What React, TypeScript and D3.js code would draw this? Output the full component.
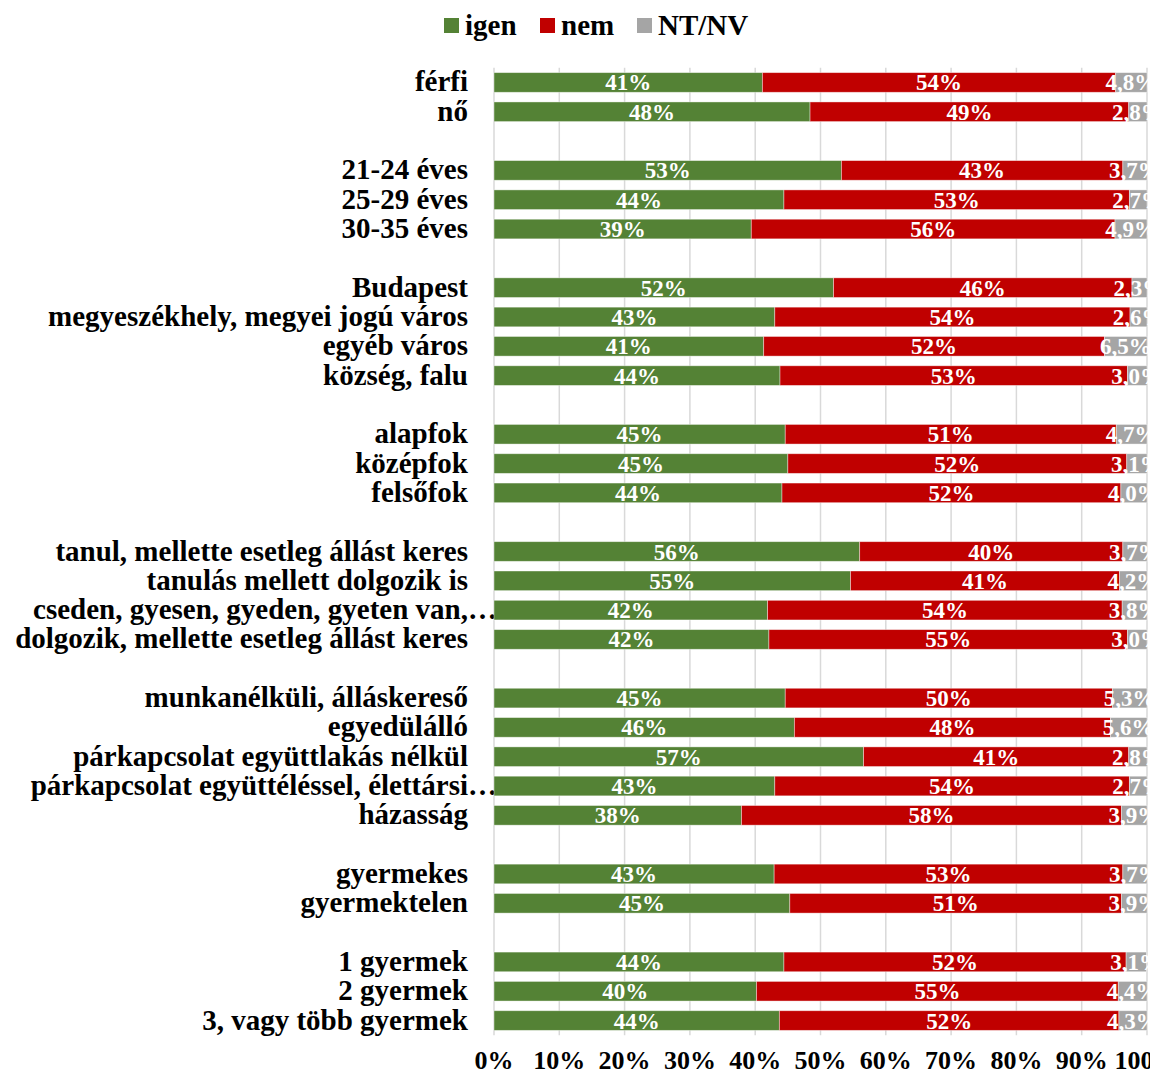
import { useEffect, useRef } from "react"
import * as d3 from "d3"

// Row categories; "" marks an empty spacer row between groups
const categories = [
  "férfi", "nő", "",
  "21-24 éves", "25-29 éves", "30-35 éves", "",
  "Budapest", "megyeszékhely, megyei jogú város", "egyéb város", "község, falu", "",
  "alapfok", "középfok", "felsőfok", "",
  "tanul, mellette esetleg állást keres", "tanulás mellett dolgozik is",
  "cseden, gyesen, gyeden, gyeten van,…", "dolgozik, mellette esetleg állást keres", "",
  "munkanélküli, álláskereső", "egyedülálló", "párkapcsolat együttlakás nélkül",
  "párkapcsolat együttéléssel, élettársi…", "házasság", "",
  "gyermekes", "gyermektelen", "",
  "1 gyermek", "2 gyermek", "3, vagy több gyermek",
]

const igen = [
  41.1, 48.4, 0,
  53.2, 44.4, 39.4, 0,
  52.0, 43.0, 41.3, 43.8, 0,
  44.6, 45.0, 44.1, 0,
  56.0, 54.6, 41.9, 42.1, 0,
  44.6, 46.0, 56.6, 43.0, 37.9, 0,
  42.9, 45.3, 0,
  44.4, 40.2, 43.7,
]
const nem = [
  54.1, 48.8, 0,
  43.1, 52.9, 55.7, 0,
  45.7, 54.4, 52.2, 53.2, 0,
  50.7, 51.9, 51.9, 0,
  40.3, 41.2, 54.3, 54.9, 0,
  50.1, 48.4, 40.6, 54.3, 58.2, 0,
  53.4, 50.8, 0,
  52.4, 55.4, 52.0,
]
const ntnv = [
  4.8, 2.8, 0,
  3.7, 2.7, 4.9, 0,
  2.3, 2.6, 6.5, 3.0, 0,
  4.7, 3.1, 4.0, 0,
  3.7, 4.2, 3.8, 3.0, 0,
  5.3, 5.6, 2.8, 2.7, 3.9, 0,
  3.7, 3.9, 0,
  3.1, 4.4, 4.3,
]

const seriesNames = ["igen", "nem", "NT/NV"]
const colors = ["#548235", "#C00000", "#A5A5A5"]
const ticks = [0, 10, 20, 30, 40, 50, 60, 70, 80, 90, 100]

const FONT = "'Times New Roman', 'Liberation Serif', serif"

export default function App() {
  const ref = useRef<SVGSVGElement>(null)

  useEffect(() => {
    if (!ref.current) return
    const el = ref.current
    d3.select(el).selectAll("*").remove()

    const W = 1150
    const H = 1075
    const left = 494
    const right = 1147
    const top = 67.8
    const bottom = 1035.2

    const svg = d3.select(el).attr("width", W).attr("height", H).attr("viewBox", `0 0 ${W} ${H}`)

    const x = d3.scaleLinear().domain([0, 100]).range([left, right])
    const keys = categories.map((_, i) => String(i))
    const y = d3.scaleBand().domain(keys).range([top, bottom]).paddingInner(0.33).paddingOuter(0.165)

    // gridlines
    svg
      .append("g")
      .selectAll("line")
      .data(ticks)
      .join("line")
      .attr("x1", (d) => x(d))
      .attr("x2", (d) => x(d))
      .attr("y1", top)
      .attr("y2", bottom)
      .attr("stroke", "#D9D9D9")
      .attr("stroke-width", 1.5)

    // tick labels
    svg
      .append("g")
      .selectAll("text")
      .data(ticks)
      .join("text")
      .attr("x", (d) => x(d))
      .attr("y", 1069)
      .attr("text-anchor", "middle")
      .attr("font-family", FONT)
      .attr("font-weight", "bold")
      .attr("font-size", 26)
      .attr("fill", "#000")
      .text((d) => `${d}%`)

    const rows = categories.map((c, i) => ({ c, i, vals: [igen[i], nem[i], ntnv[i]] }))
    const filled = rows.filter((r) => r.c !== "")

    // category labels
    svg
      .append("g")
      .selectAll("text")
      .data(filled)
      .join("text")
      .attr("x", (d) => (d.c.endsWith("…") ? 497 : 468))
      .attr("y", (d) => (y(String(d.i)) ?? 0) + y.bandwidth() / 2 + 9)
      .attr("text-anchor", "end")
      .attr("font-family", FONT)
      .attr("font-weight", "bold")
      .attr("font-size", 29)
      .attr("fill", "#000")
      .text((d) => d.c)

    // stacked segments
    const segs = filled.flatMap((r) => {
      let acc = 0
      return r.vals.map((v, s) => {
        const seg = { row: r.i, s, v, x0: acc, x1: acc + v }
        acc += v
        return seg
      })
    })

    svg
      .append("g")
      .selectAll("rect")
      .data(segs)
      .join("rect")
      .attr("x", (d) => x(d.x0))
      .attr("y", (d) => y(String(d.row)) ?? 0)
      .attr("width", (d) => x(d.x1) - x(d.x0))
      .attr("height", y.bandwidth())
      .attr("fill", (d) => colors[d.s])
      .attr("stroke", "#ffffff")
      .attr("stroke-opacity", 0.5)
      .attr("stroke-width", 0.8)

    svg
      .append("g")
      .selectAll("text")
      .data(segs)
      .join("text")
      .attr("x", (d) => x((d.x0 + d.x1) / 2))
      .attr("y", (d) => (y(String(d.row)) ?? 0) + y.bandwidth() / 2 + 8)
      .attr("text-anchor", "middle")
      .attr("font-family", FONT)
      .attr("font-weight", "bold")
      .attr("font-size", 23)
      .attr("fill", "#ffffff")
      .text((d) => (d.s === 2 ? `${d.v.toFixed(1).replace(".", ",")}%` : `${Math.round(d.v)}%`))

    // legend
    const legendX = [444, 540, 637]
    const lg = svg
      .append("g")
      .selectAll("g")
      .data(seriesNames)
      .join("g")
      .attr("transform", (_, i) => `translate(${legendX[i]},25.5)`)
    lg.append("rect").attr("x", 0).attr("y", -7.5).attr("width", 15).attr("height", 15).attr("fill", (_, i) => colors[i])
    lg.append("text")
      .attr("x", 21)
      .attr("y", 9)
      .attr("font-family", FONT)
      .attr("font-weight", "bold")
      .attr("font-size", 29)
      .attr("fill", "#000")
      .text((d) => d)
  }, [])

  return <svg ref={ref} style={{ position: "absolute", left: 0, top: 0, display: "block", background: "#fff" }} />
}
